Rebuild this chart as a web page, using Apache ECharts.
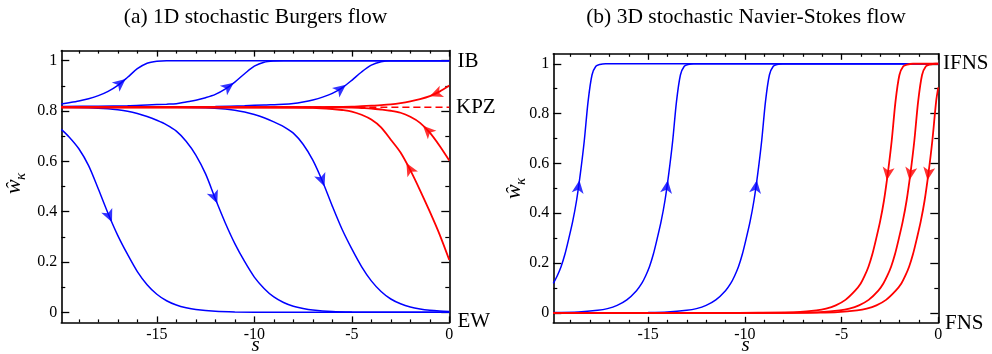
<!DOCTYPE html>
<html><head><meta charset="utf-8">
<script src="https://cdn.jsdelivr.net/npm/echarts@6/dist/echarts.min.js"></script>
<style>html,body{margin:0;padding:0;background:#fff;}#c{width:992px;height:354px;}</style>
</head><body><div id="c"></div>
<script>
// ---------- axis ticks ----------
const sMajorTicks = [-15, -10, -5, 0];
const sMinorTicks = [-19,-18,-17,-16,-14,-13,-12,-11,-9,-8,-7,-6,-4,-3,-2,-1];
const wMajorTicks = [0, 0.2, 0.4, 0.6, 0.8, 1];
const wMinorTicks = [0.1, 0.3, 0.5, 0.7, 0.9];
const sRange = [-19.9, 0];
const wRange = [-0.04, 1.04];

// ---------- (a) 1D stochastic Burgers flow : [s, w] ----------
const burgersUp1 = [[-19.9,0.828],[-19.5,0.833],[-19,0.840],[-18.5,0.849],[-18,0.861],[-17.5,0.878],[-17,0.902],[-16.5,0.934],[-16,0.968],[-15.5,0.990],[-15,0.998],[-14.5,1],[-10,1],[-5,1],[0,1]];
const burgersUp2 = [[-19.9,0.818],[-18,0.819],[-16.5,0.821],[-15.5,0.824],[-14.5,0.827],[-14,0.829],[-13.5,0.836],[-13,0.843],[-12.5,0.853],[-12,0.866],[-11.5,0.887],[-11,0.915],[-10.5,0.948],[-10,0.978],[-9.5,0.994],[-9,0.999],[-8.5,1],[-4,1],[0,1]];
const burgersUp3 = [[-19.9,0.815],[-14,0.816],[-12,0.818],[-10.5,0.821],[-9.5,0.824],[-8.5,0.827],[-8,0.830],[-7.5,0.836],[-7,0.844],[-6.5,0.855],[-6,0.870],[-5.5,0.892],[-5,0.922],[-4.5,0.955],[-4,0.982],[-3.5,0.996],[-3,1],[0,1]];
const burgersDown1 = [[-19.9,0.727],[-19.5,0.697],[-19,0.650],[-18.5,0.583],[-18,0.490],[-17.5,0.393],[-17,0.305],[-16.5,0.230],[-16,0.162],[-15.5,0.110],[-15,0.072],[-14.5,0.046],[-14,0.029],[-13.5,0.018],[-13,0.011],[-12,0.004],[-11,0.0015],[-9,0],[-4,0],[0,0]];
const burgersDown2 = [[-19.9,0.815],[-18.5,0.813],[-17.5,0.809],[-17,0.805],[-16.5,0.799],[-16,0.790],[-15.5,0.778],[-15,0.763],[-14.5,0.745],[-14,0.720],[-13.5,0.680],[-13,0.625],[-12.5,0.550],[-12,0.451],[-11.5,0.357],[-11,0.273],[-10.5,0.202],[-10,0.140],[-9.5,0.095],[-9,0.061],[-8.5,0.039],[-8,0.024],[-7.5,0.015],[-7,0.009],[-6,0.003],[-5,0.001],[-3,0],[0,0]];
const burgersDown3 = [[-19.9,0.815],[-14,0.815],[-12.5,0.813],[-11.5,0.808],[-11,0.803],[-10.5,0.796],[-10,0.786],[-9.5,0.773],[-9,0.757],[-8.5,0.738],[-8,0.712],[-7.5,0.668],[-7,0.605],[-6.5,0.520],[-6,0.422],[-5.5,0.330],[-5,0.252],[-4.5,0.182],[-4,0.125],[-3.5,0.083],[-3,0.053],[-2.5,0.034],[-2,0.021],[-1.5,0.013],[-1,0.008],[-0.5,0.005],[0,0.003]];
const burgersRed1 = [[-19.9,0.815],[-7,0.815],[-6,0.816],[-5,0.817],[-4.5,0.819],[-4,0.821],[-3.5,0.823],[-3,0.826],[-2.5,0.831],[-2,0.838],[-1.5,0.847],[-1,0.859],[-0.5,0.877],[0,0.901]];
const burgersRed2 = [[-19.9,0.815],[-6,0.815],[-5,0.814],[-4.5,0.812],[-4,0.810],[-3.5,0.806],[-3,0.801],[-2.5,0.793],[-2,0.777],[-1.5,0.753],[-1,0.714],[-0.5,0.662],[0,0.603]];
const burgersRed3 = [[-19.9,0.815],[-8,0.814],[-7,0.813],[-6,0.808],[-5.5,0.804],[-5,0.798],[-4.5,0.785],[-4,0.766],[-3.5,0.735],[-3,0.686],[-2.5,0.635],[-2,0.565],[-1.5,0.485],[-1,0.400],[-0.5,0.310],[0,0.208]];
const burgersKPZ = [[-19.9,0.815],[0,0.815]];
// arrow positions: [curve name, s, flow direction]
const burgersArrows = [['up1',-16.6,1],['up2',-11.05,1],['up3',-5.3,1],['down1',-17.3,1],['down2',-11.9,1],['down3',-6.4,1],['red1',-1.0,-1],['red2',-1.35,-1],['red3',-2.2,-1]];

// ---------- (b) 3D stochastic Navier-Stokes flow : [s, w] ----------
const nsBlue1 = [[-19.9,0.118],[-19.7,0.148],[-19.5,0.185],[-19.3,0.235],[-19.1,0.298],[-18.9,0.366],[-18.7,0.450],[-18.5,0.560],[-18.3,0.690],[-18.1,0.850],[-17.9,0.955],[-17.7,0.990],[-17.5,0.997],[-17.2,1],[-12,1],[-6,1],[0,1]];
const nsBlue2 = [[-19.9,0.001],[-18.6,0.003],[-17.6,0.010],[-17.1,0.017],[-16.6,0.030],[-16.1,0.052],[-15.6,0.089],[-15.33,0.118],[-15.13,0.148],[-14.93,0.185],[-14.73,0.235],[-14.53,0.298],[-14.33,0.366],[-14.13,0.450],[-13.93,0.560],[-13.73,0.690],[-13.53,0.850],[-13.33,0.955],[-13.13,0.990],[-12.93,0.997],[-12.63,1],[-6,1],[0,1]];
const nsBlue3 = [[-19.9,0],[-17,0],[-15,0.001],[-14,0.003],[-13,0.010],[-12.5,0.017],[-12,0.030],[-11.5,0.052],[-11,0.089],[-10.73,0.118],[-10.53,0.148],[-10.33,0.185],[-10.13,0.235],[-9.93,0.298],[-9.73,0.366],[-9.53,0.450],[-9.33,0.560],[-9.13,0.690],[-8.93,0.850],[-8.73,0.955],[-8.53,0.990],[-8.33,0.997],[-8.03,1],[-4,1],[0,1]];
const nsRed1 = [[-19.9,0],[-10.3,0],[-8.3,0.001],[-7.3,0.003],[-6.3,0.010],[-5.8,0.017],[-5.3,0.030],[-4.8,0.052],[-4.3,0.089],[-4.01,0.118],[-3.81,0.148],[-3.61,0.185],[-3.41,0.235],[-3.21,0.298],[-3.01,0.366],[-2.81,0.450],[-2.61,0.560],[-2.41,0.690],[-2.21,0.850],[-2.01,0.955],[-1.81,0.990],[-1.61,0.997],[-1.31,1],[0,1]];
const nsRed2 = [[-19.9,0],[-9.1,0],[-7.1,0.001],[-6.1,0.003],[-5.1,0.010],[-4.6,0.017],[-4.1,0.030],[-3.6,0.052],[-3.1,0.089],[-2.84,0.118],[-2.64,0.148],[-2.44,0.185],[-2.24,0.235],[-2.04,0.298],[-1.84,0.366],[-1.64,0.450],[-1.44,0.560],[-1.24,0.690],[-1.04,0.850],[-0.84,0.955],[-0.64,0.990],[-0.44,0.997],[-0.14,1],[0,1]];
const nsRed3 = [[-19.9,0],[-8.2,0],[-6.2,0.001],[-5.2,0.003],[-4.2,0.010],[-3.7,0.017],[-3.2,0.030],[-2.7,0.052],[-2.2,0.089],[-1.91,0.118],[-1.71,0.148],[-1.51,0.185],[-1.31,0.235],[-1.11,0.298],[-0.91,0.366],[-0.71,0.450],[-0.51,0.560],[-0.31,0.690],[-0.11,0.850],[0,0.905]];
const nsArrows = [['b1',-18.55,1],['b2',-13.98,1],['b3',-9.38,1],['r1',-2.66,-1],['r2',-1.49,-1],['r3',-0.56,-1]];

// ---------- texts ----------
const panelTitles = ['(a) 1D stochastic Burgers flow', '(b) 3D stochastic Navier-Stokes flow'];
const fixedPointLabels = [['IB','KPZ','EW'], ['IFNS','FNS']];

// ---------- build ----------
const BLUE = '#0000ff', RED = '#ff0000', INK = '#000';
const SERIF = '"Liberation Serif","Times New Roman",serif';
const grids = [
  {left: 61.3, top: 50.6, width: 388, height: 271.8, outerBoundsMode: 'none', containLabel: false},
  {left: 553.3, top: 53.8, width: 385, height: 269, outerBoundsMode: 'none', containLabel: false}
];

function xAxesFor(g) {
  const base = {type:'value', gridIndex:g, min:sRange[0], max:sRange[1], splitLine:{show:false},
    axisLine:{show:false, onZero:false}, axisLabel:{show:false}, axisTick:{show:false}};
  return [
    Object.assign({}, base, {position:'bottom',
      axisLine:{show:true, onZero:false, lineStyle:{color:INK, width:1.6}},
      axisTick:{show:true, inside:true, length:6, customValues:sMajorTicks, lineStyle:{color:INK, width:1.3}},
      axisLabel:{show:true, customValues:sMajorTicks, margin:4, color:INK, fontFamily:SERIF, fontSize:16}}),
    Object.assign({}, base, {position:'bottom',
      axisTick:{show:true, inside:true, length:3, customValues:sMinorTicks, lineStyle:{color:INK, width:1.2}}}),
    Object.assign({}, base, {position:'top',
      axisLine:{show:true, onZero:false, lineStyle:{color:INK, width:1.6}},
      axisTick:{show:true, inside:true, length:6, customValues:sMajorTicks, lineStyle:{color:INK, width:1.3}}}),
    Object.assign({}, base, {position:'top',
      axisTick:{show:true, inside:true, length:3, customValues:sMinorTicks, lineStyle:{color:INK, width:1.2}}})
  ];
}
function yAxesFor(g) {
  const base = {type:'value', gridIndex:g, min:wRange[0], max:wRange[1], splitLine:{show:false},
    axisLine:{show:false, onZero:false}, axisLabel:{show:false}, axisTick:{show:false}};
  return [
    Object.assign({}, base, {position:'left',
      axisLine:{show:true, onZero:false, lineStyle:{color:INK, width:1.6}},
      axisTick:{show:true, inside:true, length:8, customValues:wMajorTicks, lineStyle:{color:INK, width:1.3}},
      axisLabel:{show:true, customValues:wMajorTicks, margin:4, color:INK, fontFamily:SERIF, fontSize:16}}),
    Object.assign({}, base, {position:'left',
      axisTick:{show:true, inside:true, length:4, customValues:wMinorTicks, lineStyle:{color:INK, width:1.2}}}),
    Object.assign({}, base, {position:'right',
      axisLine:{show:true, onZero:false, lineStyle:{color:INK, width:1.6}},
      axisTick:{show:true, inside:true, length:8, customValues:wMajorTicks, lineStyle:{color:INK, width:1.3}}}),
    Object.assign({}, base, {position:'right',
      axisTick:{show:true, inside:true, length:4, customValues:wMinorTicks, lineStyle:{color:INK, width:1.2}}})
  ];
}

function curve(g, data, color, width, dashed) {
  return {type:'line', xAxisIndex:g*4, yAxisIndex:g*4, data:data, showSymbol:false, symbol:'none',
    smooth:0.3, silent:true,
    lineStyle:{color:color, width:width, type: dashed ? [7,4] : 'solid'}};
}

const curvesA = {up1:burgersUp1, up2:burgersUp2, up3:burgersUp3, down1:burgersDown1, down2:burgersDown2, down3:burgersDown3, red1:burgersRed1, red2:burgersRed2, red3:burgersRed3};
const curvesB = {b1:nsBlue1, b2:nsBlue2, b3:nsBlue3, r1:nsRed1, r2:nsRed2, r3:nsRed3};

const BW = 1.5, RW = 1.8;
const series = [
  curve(0, burgersUp1, BLUE, BW), curve(0, burgersUp2, BLUE, BW), curve(0, burgersUp3, BLUE, BW),
  curve(0, burgersDown1, BLUE, BW), curve(0, burgersDown2, BLUE, BW), curve(0, burgersDown3, BLUE, BW),
  curve(0, burgersKPZ, RED, 1.5, true),
  curve(0, burgersRed1, RED, RW), curve(0, burgersRed2, RED, RW), curve(0, burgersRed3, RED, RW),
  curve(1, nsBlue1, BLUE, BW), curve(1, nsBlue2, BLUE, BW), curve(1, nsBlue3, BLUE, BW),
  curve(1, nsRed1, RED, RW), curve(1, nsRed2, RED, RW), curve(1, nsRed3, RED, RW),
  {id:'arrowsA', type:'scatter', xAxisIndex:0, yAxisIndex:0, symbol:'arrow', symbolSize:[9,13], silent:true, z:5, data:[]},
  {id:'arrowsB', type:'scatter', xAxisIndex:4, yAxisIndex:4, symbol:'arrow', symbolSize:[9,13], silent:true, z:5, data:[]}
];

function txt(x, y, text, size, align, italic) {
  return {type:'text', x:x, y:y, silent:true,
    style:{text:text, fill:INK, font:(italic?'italic ':'') + size + 'px ' + SERIF,
      align:align, verticalAlign:'middle', textAlign:align, textVerticalAlign:'middle'}};
}
function yName(x, y) {
  return {type:'group', x:x, y:y, rotation:Math.PI/2, silent:true, children:[
    {type:'text', x:0, y:0, style:{text:'\u0175', fill:INK, font:'italic 22px ' + SERIF, align:'left', verticalAlign:'middle', textAlign:'left', textVerticalAlign:'middle'}},
    {type:'text', x:14, y:7, style:{text:'\u03BA', fill:INK, font:'italic 15px ' + SERIF, align:'left', verticalAlign:'middle', textAlign:'left', textVerticalAlign:'middle'}}
  ]};
}
const graphics = [
  txt(255.5, 17, panelTitles[0], 21.5, 'center'),
  txt(746, 17, panelTitles[1], 21.5, 'center'),
  txt(457.5, 61, fixedPointLabels[0][0], 21, 'left'),
  txt(456, 107.5, fixedPointLabels[0][1], 21, 'left'),
  txt(457.5, 321.3, fixedPointLabels[0][2], 21, 'left'),
  txt(943, 63.5, fixedPointLabels[1][0], 21, 'left'),
  txt(945, 323.7, fixedPointLabels[1][1], 21, 'left'),
  txt(255.5, 345, 's', 21, 'center', true),
  txt(745.5, 345, 's', 21, 'center', true),
  yName(14, 194),
  yName(514, 199)
];

const chart = echarts.init(document.getElementById('c'), null, {renderer:'canvas'});
chart.setOption({
  animation:false,
  backgroundColor:'#fff',
  grid: grids,
  xAxis: xAxesFor(0).concat(xAxesFor(1)),
  yAxis: yAxesFor(0).concat(yAxesFor(1)),
  series: series,
  graphic: graphics
});

function interp(c, s) {
  for (let i = 0; i < c.length - 1; i++) {
    const a = c[i], b = c[i+1];
    if (s >= a[0] && s <= b[0]) { const t = (s - a[0]) / (b[0] - a[0]); return a[1] + t * (b[1] - a[1]); }
  }
  return c[c.length-1][1];
}
function arrowData(list, curves, axisIdx) {
  return list.map(function (a) {
    const c = curves[a[0]], s = a[1], dir = a[2];
    const w = interp(c, s);
    const f = {xAxisIndex:axisIdx, yAxisIndex:axisIdx};
    const p0 = chart.convertToPixel(f, [s - 0.08*dir, interp(c, s - 0.08*dir)]);
    const p1 = chart.convertToPixel(f, [s + 0.08*dir, interp(c, s + 0.08*dir)]);
    const dx = p1[0] - p0[0], dy = p1[1] - p0[1];
    const ang = Math.atan2(-dx, -dy) * 180 / Math.PI;
    const col = (a[0].indexOf('r') === 0) ? RED : BLUE;
    return {value:[s, w], symbolRotate:ang, itemStyle:{color:col}};
  });
}
chart.setOption({series:[
  {id:'arrowsA', data:arrowData(burgersArrows, curvesA, 0)},
  {id:'arrowsB', data:arrowData(nsArrows, curvesB, 4)}
]});
</script>
</body></html>
